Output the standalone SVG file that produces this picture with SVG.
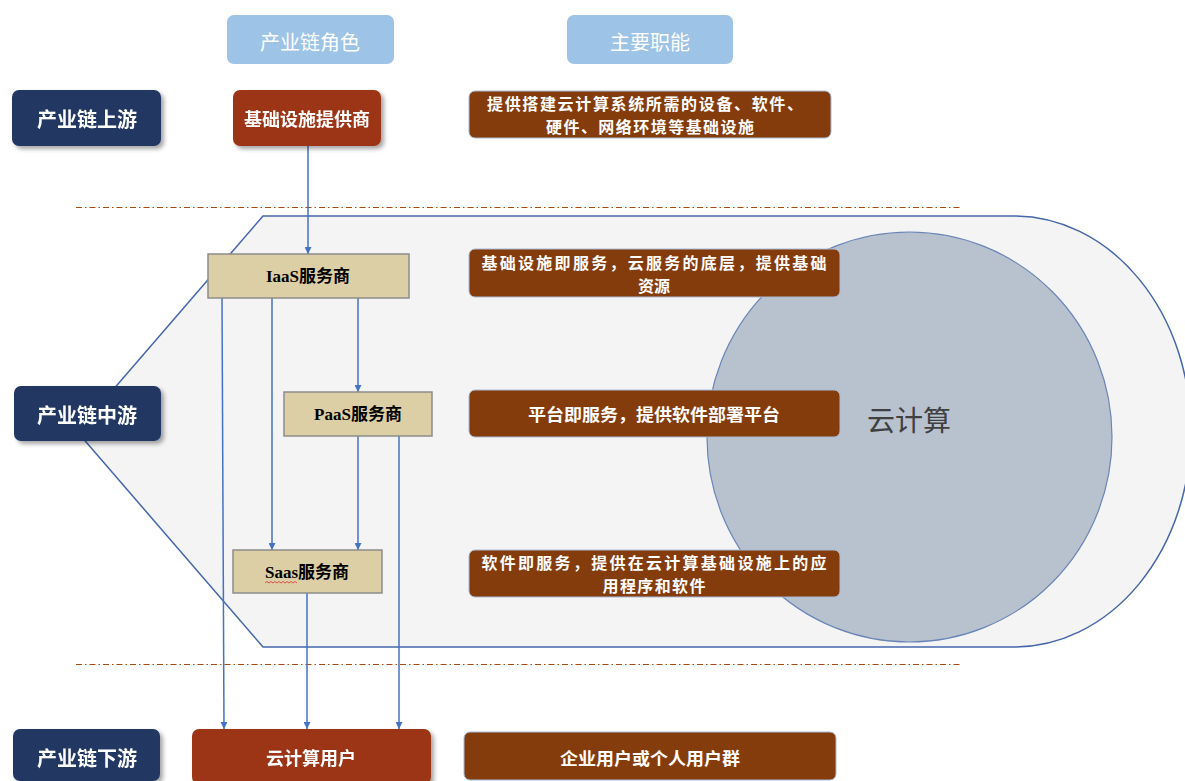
<svg xmlns="http://www.w3.org/2000/svg" width="1185" height="781" viewBox="0 0 1185 781">
<defs>
<style>
.lvl{fill:#203864;}
.hdr{fill:#9dc3e6;}
.rust{fill:#9c3419;}
.desc{fill:#843c0c;stroke:#a8bbd9;stroke-width:1;}
.svc{fill:#dccea5;stroke:#8c8c8c;stroke-width:1.5;}
.t{font-family:"Noto Sans CJK SC",sans-serif;fill:#ffffff;text-anchor:middle;dominant-baseline:central;}
.tb{font-weight:bold;}
.ts{font-family:"Liberation Serif","Noto Sans CJK SC",serif;font-weight:bold;fill:#000000;text-anchor:middle;dominant-baseline:central;font-size:17px;}
.dash{stroke:#a84a10;stroke-width:1;stroke-dasharray:6 3 1.5 3;fill:none;}
.conn{stroke:#4472c4;stroke-width:1.5;fill:none;marker-end:url(#arr);}
</style>
<marker id="arr" viewBox="0 0 10 10" refX="10" refY="5" markerWidth="7" markerHeight="7" markerUnits="userSpaceOnUse" orient="auto">
<path d="M0,0 L10,5 L0,10 Z" fill="#4472c4"/>
</marker>
<filter id="sh" x="-10%" y="-10%" width="130%" height="140%">
<feDropShadow dx="3" dy="3" stdDeviation="2" flood-color="#000" flood-opacity="0.35"/>
</filter>
</defs>
<rect width="1185" height="781" fill="#ffffff"/>

<g id="cloud-area">
<path d="M263,216 L1014,216 A177,215.5 0 0 1 1014,647 L263,647 L77,431.5 Z" fill="#f4f4f4" stroke="#4467aa" stroke-width="1.5"/>
<ellipse cx="909.5" cy="437" rx="202.5" ry="205" fill="#b8c1ce" stroke="#6a86b8" stroke-width="1.2"/>
<text x="909" y="419" style="font-family:'Noto Sans CJK SC',sans-serif;font-size:28px;fill:#404040;text-anchor:middle;dominant-baseline:central;">云计算</text>
</g>

<g id="dividers">
<line class="dash" x1="76" y1="207.5" x2="962" y2="207.5"/>
<line class="dash" x1="76" y1="664.5" x2="962" y2="664.5"/>
</g>

<g id="connectors">
<line class="conn" x1="308" y1="146" x2="308" y2="254"/>
<line class="conn" x1="358" y1="298" x2="358" y2="392"/>
<line class="conn" x1="272" y1="298" x2="272" y2="550"/>
<line class="conn" x1="222" y1="298" x2="224" y2="729"/>
<line class="conn" x1="358" y1="436" x2="358" y2="550"/>
<line class="conn" x1="399" y1="436" x2="399" y2="729"/>
<line class="conn" x1="307" y1="593" x2="307" y2="729"/>
</g>

<g id="hdr-role">
<rect class="hdr" x="227" y="15" width="167" height="49" rx="7"/>
<text class="t" x="310" y="41" font-size="20">产业链角色</text>
</g>
<g id="hdr-func">
<rect class="hdr" x="567" y="15" width="166" height="49" rx="7"/>
<text class="t" x="650" y="41" font-size="20">主要职能</text>
</g>

<g id="lvl-up" filter="url(#sh)">
<rect class="lvl" x="12" y="90" width="149" height="56" rx="7"/>
<text class="t tb" x="87" y="118" font-size="20">产业链上游</text>
</g>
<g id="lvl-mid" filter="url(#sh)">
<rect class="lvl" x="14" y="386" width="147" height="55" rx="7"/>
<text class="t tb" x="87" y="414" font-size="20">产业链中游</text>
</g>
<g id="lvl-down" filter="url(#sh)">
<rect class="lvl" x="13" y="729" width="147" height="52" rx="7"/>
<text class="t tb" x="87" y="757" font-size="20">产业链下游</text>
</g>

<g id="infra-provider" filter="url(#sh)">
<rect class="rust" x="233" y="90" width="148" height="56" rx="7"/>
<text class="t tb" x="307" y="118" font-size="18">基础设施提供商</text>
</g>

<g id="iaas">
<rect class="svc" x="208" y="254" width="201" height="44"/>
<text class="ts" x="308" y="276">IaaS服务商</text>
</g>
<g id="paas">
<rect class="svc" x="284" y="392" width="148" height="44"/>
<text class="ts" x="358" y="414">PaaS服务商</text>
</g>
<g id="saas">
<rect class="svc" x="233" y="550" width="149" height="43"/>
<text class="ts" x="307" y="572">Saas服务商</text>
<path d="M265,583 l2,-1.5 l2,1.5 l2,-1.5 l2,1.5 l2,-1.5 l2,1.5 l2,-1.5 l2,1.5 l2,-1.5 l2,1.5 l2,-1.5 l2,1.5 l2,-1.5 l2,1.5 l2,-1.5 l2,1.5" fill="none" stroke="#e03030" stroke-width="0.8"/>
</g>

<g id="cloud-user" filter="url(#sh)">
<rect class="rust" x="192" y="729" width="239" height="55" rx="7"/>
<text class="t tb" x="311" y="757" font-size="18">云计算用户</text>
</g>

<g id="desc-infra">
<rect class="desc" x="469" y="91" width="362" height="47" rx="6"/>
<text class="t tb" font-size="16"><tspan x="645" y="103" textLength="316">提供搭建云计算系统所需的设备、软件、</tspan><tspan x="650" y="126" textLength="208">硬件、网络环境等基础设施</tspan></text>
</g>
<g id="desc-iaas">
<rect class="desc" x="469" y="249" width="371" height="48" rx="6"/>
<text class="t tb" font-size="16"><tspan x="654" y="261.5" textLength="345">基础设施即服务，云服务的底层，提供基础</tspan><tspan x="654" y="284.5">资源</tspan></text>
</g>
<g id="desc-paas">
<rect class="desc" x="469" y="390" width="371" height="47" rx="6"/>
<text class="t tb" x="654" y="413" font-size="17" textLength="252" lengthAdjust="spacingAndGlyphs">平台即服务，提供软件部署平台</text>
</g>
<g id="desc-saas">
<rect class="desc" x="469" y="550" width="371" height="47" rx="6"/>
<text class="t tb" font-size="16"><tspan x="654" y="562" textLength="345">软件即服务，提供在云计算基础设施上的应</tspan><tspan x="654" y="585" textLength="103">用程序和软件</tspan></text>
</g>
<g id="desc-user">
<rect class="desc" x="464" y="732" width="372" height="48" rx="6"/>
<text class="t tb" x="650" y="757" font-size="17" textLength="180" lengthAdjust="spacingAndGlyphs">企业用户或个人用户群</text>
</g>
</svg>
